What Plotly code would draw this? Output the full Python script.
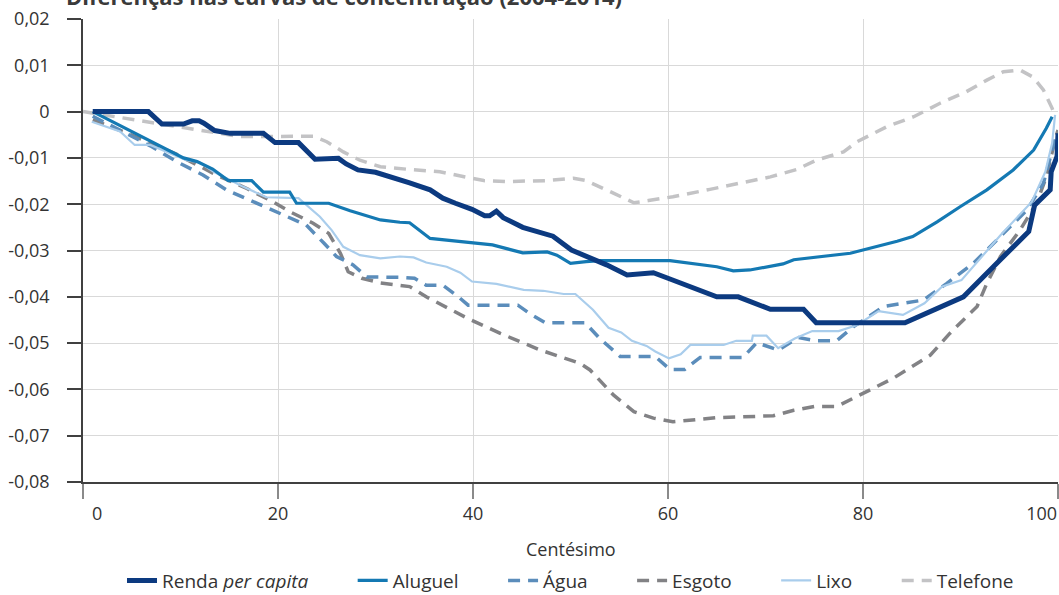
import plotly.graph_objects as go

TITLE = "Diferenças nas curvas de concentração (2004-2014)"
X_LABEL = "Centésimo"

Y_TICKS = [0.02, 0.01, 0.0, -0.01, -0.02, -0.03, -0.04, -0.05, -0.06, -0.07, -0.08]
Y_TICK_TEXT = ["0,02", "0,01", "0", "-0,01", "-0,02", "-0,03", "-0,04", "-0,05", "-0,06", "-0,07", "-0,08"]
X_TICKS = [0, 20, 40, 60, 80, 100]
X_TICK_TEXT = ["\u00a0" * 6 + "0", "20", "40", "60", "80", "100" + "\u00a0" * 7]

renda_x = [1, 6.7, 8.1, 10.3, 11.2, 11.9, 12.4, 13.5, 15.1, 18.5, 19.7, 22.1, 23.8, 26.2, 27, 28.2, 30,
           32.5, 33.5, 35.6, 36.9, 38.2, 39.9, 41.2, 41.7, 42.4, 43.1, 45.1, 48.2, 50.1, 53.7, 55.8, 58.5,
           60, 65, 67.2, 70.5, 73.9, 75.2, 84.3, 90.3, 93.7, 97, 97.6, 99.2, 99.3, 99.9, 100]
renda_y = [0, 0, -0.0027, -0.0027, -0.002, -0.002, -0.0025, -0.0041, -0.0047, -0.0047, -0.0067, -0.0067,
           -0.0103, -0.0101, -0.0113, -0.0126, -0.0131, -0.0146, -0.0154, -0.0169, -0.0187, -0.0198, -0.0211,
           -0.0225, -0.0225, -0.0215, -0.0229, -0.025, -0.0269, -0.0299, -0.0331, -0.0353, -0.0348, -0.036,
           -0.04, -0.04, -0.0427, -0.0427, -0.0456, -0.0456, -0.04, -0.0328, -0.0259, -0.0202, -0.0169,
           -0.013, -0.0097, -0.0047]

aluguel_x = [1, 10.3, 11.7, 13.3, 14.9, 17.3, 18.5, 21.2, 21.9, 25.2, 27.4, 30.5, 32.5, 33.5, 35.6, 40, 42,
             45.1, 47.6, 48.6, 50, 51.6, 53, 60.2, 65, 66.7, 68.4, 71.8, 72.9, 78.7, 80, 82.1, 83.5, 85.1,
             87.6, 90, 92.7, 95.4, 97.5, 98.8, 99.4]
aluguel_y = [0, -0.01, -0.0108, -0.0124, -0.0149, -0.0149, -0.0174, -0.0174, -0.0198, -0.0198, -0.0214,
             -0.0234, -0.0239, -0.024, -0.0274, -0.0284, -0.0288, -0.0305, -0.0303, -0.031, -0.0328, -0.0324,
             -0.0322, -0.0322, -0.0335, -0.0344, -0.0342, -0.0329, -0.032, -0.0306, -0.0299, -0.0288, -0.028,
             -0.027, -0.0238, -0.0205, -0.0169, -0.0126, -0.0083, -0.0036, -0.0011]

agua_x = [1, 6.9, 9.6, 12.3, 14.7, 17.8, 19.8, 21.6, 22.9, 24.7, 26, 27.7, 29.1, 32.5, 34, 35.2, 36.9, 38.5,
          39.5, 44.6, 45.8, 47.4, 51.5, 53, 55.1, 58.7, 60.2, 61.7, 63.3, 67.7, 69.1, 71.3, 73.4, 75.2, 77.3,
          79, 82.1, 86.2, 88.6, 91.3, 94.1, 96.8, 98.5, 99.5, 99.7]
agua_y = [-0.001, -0.0074, -0.0108, -0.0137, -0.0169, -0.0198, -0.0218, -0.0234, -0.0245, -0.0284, -0.0313,
          -0.0331, -0.0357, -0.0358, -0.036, -0.0375, -0.0375, -0.04, -0.0418, -0.0418, -0.0436, -0.0456,
          -0.0456, -0.049, -0.0529, -0.0529, -0.0557, -0.0557, -0.0531, -0.0531, -0.0499, -0.0515, -0.0488,
          -0.0495, -0.0495, -0.0465, -0.0421, -0.0407, -0.0371, -0.0328, -0.027, -0.0213, -0.0155, -0.0076,
          -0.006]

esgoto_x = [1, 4.1, 9.4, 13.7, 16.8, 19.5, 21.2, 23.6, 25.2, 26.4, 27.2, 28.6, 30.5, 33.5, 35.2, 39.4, 42.8,
            46.9, 51, 52, 54.4, 56.5, 58.5, 60.5, 65, 70.8, 72.9, 75, 77.3, 80, 83.1, 86.9, 88.9, 91.7, 92.7,
            94.1, 96.1, 97.8, 98.8, 99.7, 100]
esgoto_y = [-0.0018, -0.0043, -0.009, -0.0137, -0.0166, -0.0195, -0.0216, -0.0241, -0.0263, -0.0306, -0.0346,
            -0.036, -0.037, -0.0378, -0.04, -0.0446, -0.0479, -0.0515, -0.0544, -0.0558, -0.0612, -0.0648,
            -0.0662, -0.067, -0.0661, -0.0657, -0.0645, -0.0637, -0.0637, -0.0608, -0.0576, -0.0526, -0.0479,
            -0.0421, -0.0371, -0.0313, -0.0256, -0.0198, -0.0141, -0.0061, -0.004]

lixo_x = [0.9, 3.8, 5.3, 6.9, 10.6, 12, 13.4, 16.4, 18.8, 22.1, 24.3, 25.5, 26.7, 28.4, 30.5, 32.5, 33.9,
          35.2, 37.3, 38.7, 39.9, 42.4, 45.2, 47.2, 49.3, 50.5, 52.3, 53.9, 55.2, 56.3, 57.8, 58.7, 60.1, 61.3,
          62.3, 65.7, 67, 68.6, 68.7, 70.1, 71.3, 73, 74.8, 77.5, 79.4, 81.6, 84.1, 86.3, 88.1, 90.1, 92.2,
          94.1, 97.3, 98.7, 99.4, 99.7]
lixo_y = [-0.0022, -0.0043, -0.0072, -0.0072, -0.0105, -0.011, -0.013, -0.0162, -0.0185, -0.0187, -0.0227,
          -0.0256, -0.0292, -0.031, -0.0317, -0.0313, -0.0315, -0.0326, -0.0335, -0.0348, -0.0367, -0.0372,
          -0.0385, -0.0387, -0.0394, -0.0394, -0.0428, -0.0467, -0.0477, -0.0495, -0.0506, -0.0518, -0.0533,
          -0.0524, -0.0504, -0.0504, -0.0495, -0.0495, -0.0484, -0.0484, -0.0511, -0.049, -0.0474, -0.0474,
          -0.0461, -0.0431, -0.0439, -0.0414, -0.0378, -0.0364, -0.0313, -0.0267, -0.0195, -0.013, -0.0068,
          -0.0007]

telefone_x = [0, 4.4, 8.9, 11.3, 13.4, 16.1, 19.5, 23.6, 25, 26.7, 28.4, 30.5, 33.5, 36.6, 39.4, 41.1, 43.5,
              47.6, 50.3, 51.6, 54.4, 56.5, 58, 60.5, 64.3, 67.4, 70.5, 73.2, 75.2, 78, 79.4, 82.4, 85.2, 87.9,
              90.6, 92.7, 94.4, 96.1, 97.4, 98.5, 99.4, 99.7]
telefone_y = [0, -0.0015, -0.0029, -0.0038, -0.0045, -0.0054, -0.0054, -0.0053, -0.0065, -0.0087, -0.0105,
              -0.0119, -0.0125, -0.013, -0.0142, -0.0149, -0.0151, -0.0149, -0.0144, -0.0149, -0.0176, -0.0197,
              -0.0192, -0.0184, -0.0168, -0.0155, -0.0141, -0.0125, -0.0105, -0.0087, -0.0065, -0.0033,
              -0.0011, 0.0018, 0.0043, 0.0068, 0.0086, 0.009, 0.0075, 0.0047, 0.0007, -0.0011]

FONT = "Open Sans"
DASH = "12px,8px"

series = [
    # (name, x, y, color, width, dash, legendrank) in drawing order
    ("Telefone", telefone_x, telefone_y, "#c3c3c5", 3.5, DASH, 6),
    ("Esgoto", esgoto_x, esgoto_y, "#828285", 3.5, DASH, 4),
    ("Água", agua_x, agua_y, "#5b8dbb", 3.5, DASH, 3),
    ("Lixo", lixo_x, lixo_y, "#a9cdec", 2.2, "solid", 5),
    ("Aluguel", aluguel_x, aluguel_y, "#1479b3", 3.2, "solid", 2),
    ("Renda <i>per capita</i>", renda_x, renda_y, "#0c3a80", 5, "solid", 1),
]

fig = go.Figure()
for name, xs, ys, color, width, dash, rank in series:
    fig.add_trace(go.Scatter(
        x=xs, y=ys, mode="lines", name=name + "\u00a0" * 8, legendrank=rank,
        line=dict(color=color, width=width, dash=dash),
    ))

fig.update_layout(
    width=1059, height=595,
    margin=dict(l=83, r=1, t=19, b=113, autoexpand=False),
    paper_bgcolor="white", plot_bgcolor="white",
    font=dict(family=FONT, size=18, color="#333333"),
    showlegend=True,
    legend=dict(orientation="h", x=0.52, xanchor="center", y=-0.213, yanchor="middle",
                font=dict(size=19, color="#333333"), traceorder="normal"),
    annotations=[
        dict(text="<b>" + TITLE + "</b>", xref="paper", yref="paper", x=-0.02, y=1.014,
             xanchor="left", yanchor="bottom", showarrow=False, font=dict(size=22, color="#3a3a3a")),
        dict(text=X_LABEL, xref="paper", yref="paper", x=0.5, y=-0.145,
             xanchor="center", yanchor="middle", showarrow=False, font=dict(size=18, color="#333333")),
    ],
)

fig.update_xaxes(
    range=[0, 100], tickvals=X_TICKS, ticktext=X_TICK_TEXT, automargin=False,
    ticklabeloverflow="allow",
    showgrid=True, gridcolor="#d9d9d9", gridwidth=1.2,
    showline=True, linecolor="#404040", linewidth=1.5,
    ticks="outside", ticklen=15, tickcolor="#8a8a8a", tickwidth=1.5,
    tickfont=dict(size=18, color="#333333"), zeroline=False,
)
fig.update_yaxes(
    range=[-0.08, 0.02], tickvals=Y_TICKS, ticktext=Y_TICK_TEXT, automargin=False,
    showgrid=True, gridcolor="#d9d9d9", gridwidth=1.2,
    showline=True, linecolor="#404040", linewidth=1.5,
    ticks="outside", ticklen=14, tickcolor="#404040", tickwidth=1.5,
    tickfont=dict(size=18, color="#333333"), zeroline=False, ticklabelstandoff=14,
)

fig.write_html("out.html", config={"displayModeBar": False},
               post_script="document.body.style.margin='0px';")
